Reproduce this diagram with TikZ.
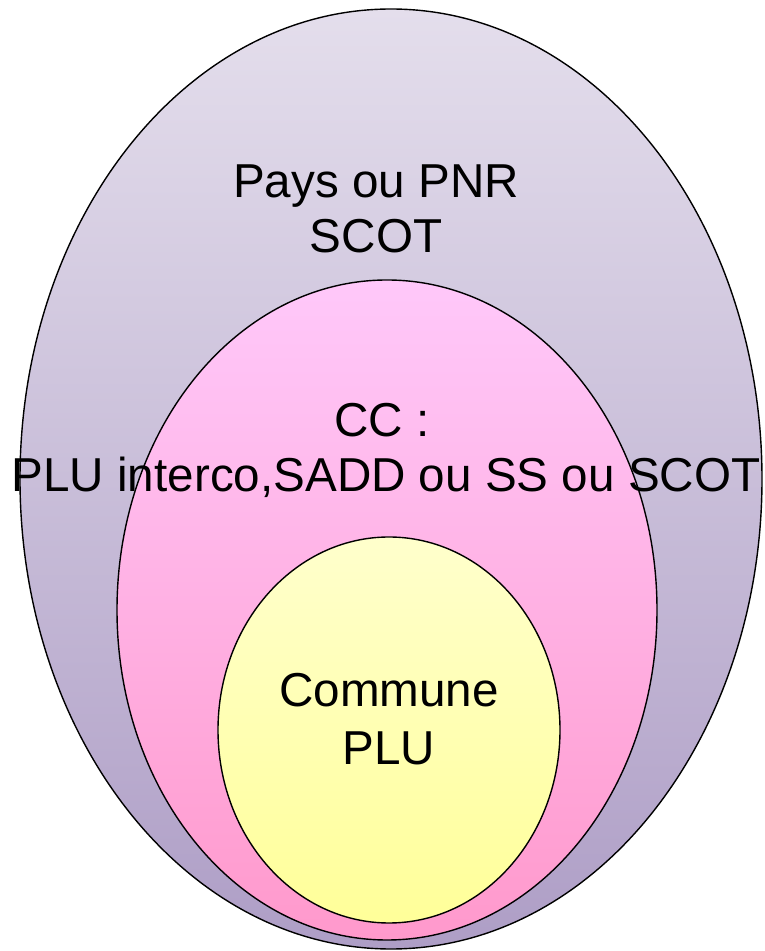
\documentclass[tikz,border=0pt]{standalone}
\usepackage{fontspec}
\setmainfont{Liberation Sans}
\definecolor{outerTop}{HTML}{E4DEEC}
\definecolor{outerBot}{HTML}{AE9EC6}
\definecolor{midTop}{HTML}{FFC8FA}
\definecolor{midBot}{HTML}{FF99CC}
\definecolor{innTop}{HTML}{FFFFCC}
\definecolor{innBot}{HTML}{FFFF99}
\begin{document}
\begin{tikzpicture}[x=1pt,y=1pt,
  ring/.style={draw=black,line width=1.4pt},
  lbl/.style={align=center,font=\fontsize{47.6}{57}\selectfont,inner sep=0pt}]
\useasboundingbox (0,0) rectangle (765,951);
\shade[ring,top color=outerTop,bottom color=outerBot] (391,472) ellipse [x radius=371,y radius=470];
\shade[ring,top color=midTop,bottom color=midBot] (387,341) ellipse [x radius=270,y radius=330];
\shade[ring,top color=innTop,bottom color=innBot] (389,221) ellipse [x radius=171,y radius=193];
\node[lbl,anchor=base] (pays) at (376,753) {Pays ou PNR};
\node[lbl,anchor=base] (scot) at (376,698) {SCOT};
\node[lbl,anchor=base] (cc) at (382,514) {CC :};
\node[lbl,anchor=base] (plui) at (386,459) {PLU interco,SADD ou SS ou SCOT};
\node[lbl,anchor=base] (comm) at (389,244) {Commune};
\node[lbl,anchor=base] (plu) at (389,186) {PLU};
\end{tikzpicture}
\end{document}
